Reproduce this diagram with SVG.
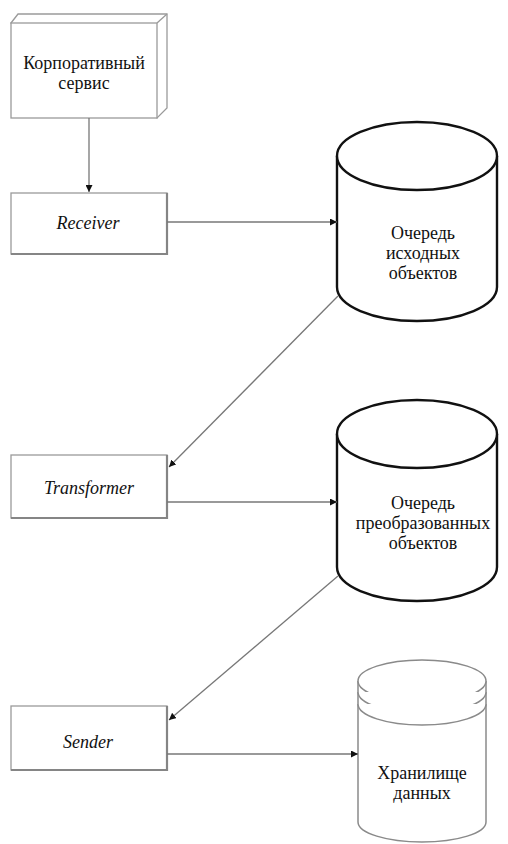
<svg xmlns="http://www.w3.org/2000/svg" width="508" height="844" viewBox="0 0 508 844">
  <style>
    .lbl { font-size: 18px; fill: #111; text-anchor: middle; }
    .it { font-style: italic; }
    .box { fill: #fff; stroke: #9a9a9a; stroke-width: 1.3; }
    .shade { fill: none; stroke: #858585; stroke-width: 2.2; }
    .cyl { fill: #fff; stroke: #111; stroke-width: 2.4; }
    .store { fill: #fff; stroke: #8a8a8a; stroke-width: 1.5; }
    .conn { fill: none; stroke: #777; stroke-width: 1.3; }
  </style>
  <defs>
    <marker id="arrow" viewBox="0 0 10 10" refX="10" refY="5" markerWidth="7" markerHeight="7" orient="auto" markerUnits="userSpaceOnUse">
      <path d="M0,0 L10,5 L0,10 z" fill="#111"/>
    </marker>
  </defs>

  <rect width="508" height="844" fill="#fff"/>

  <g font-family="Liberation Serif, Times New Roman, Tinos, DejaVu Serif, Noto Serif, FreeSerif, serif">
  <!-- Corporate service: 3D node box -->
  <g id="corp-service">
    <path d="M11,23 L18,14 L167,14 L167,108 L157,118 Z" class="box"/>
    <path d="M157,23 L167,14" class="box"/>
    <rect x="11" y="23" width="146" height="95" class="box"/>
    <text class="lbl" x="84" y="69">Корпоративный</text>
    <text class="lbl" x="84" y="89">сервис</text>
  </g>

  <!-- Receiver -->
  <g id="receiver">
    <rect x="11" y="193" width="156" height="61" class="box"/>
    <path d="M11,254 L167,254 L167,193" class="shade"/>
    <text class="lbl it" x="88" y="229">Receiver</text>
  </g>

  <!-- Source object queue -->
  <g id="queue-source">
    <path d="M337,156 L337,287 A80,34 0 0 0 497,287 L497,156" class="cyl"/>
    <ellipse cx="417" cy="156" rx="80" ry="34" class="cyl"/>
    <text class="lbl" x="423" y="239">Очередь</text>
    <text class="lbl" x="423" y="259">исходных</text>
    <text class="lbl" x="423" y="279">объектов</text>
  </g>

  <!-- Transformer -->
  <g id="transformer">
    <rect x="11" y="455" width="156" height="63" class="box"/>
    <path d="M11,518 L167,518 L167,455" class="shade"/>
    <text class="lbl it" x="89" y="494">Transformer</text>
  </g>

  <!-- Transformed object queue -->
  <g id="queue-transformed">
    <path d="M337,434 L337,567 A80,34 0 0 0 497,567 L497,434" class="cyl"/>
    <ellipse cx="417" cy="434" rx="80" ry="34" class="cyl"/>
    <text class="lbl" x="423" y="509">Очередь</text>
    <text class="lbl" x="423" y="529">преобразованных</text>
    <text class="lbl" x="423" y="549">объектов</text>
  </g>

  <!-- Sender -->
  <g id="sender">
    <rect x="11" y="706" width="156" height="64" class="box"/>
    <path d="M11,770 L167,770 L167,706" class="shade"/>
    <text class="lbl it" x="88" y="748">Sender</text>
  </g>

  <!-- Data storage -->
  <g id="storage">
    <path d="M358,681 L358,822 A64,20 0 0 0 486,822 L486,681" class="store"/>
    <ellipse cx="422" cy="681" rx="64" ry="21" class="store"/>
    <path d="M358,692 A64,21 0 0 0 486,692" class="store"/>
    <path d="M358,704 A64,21 0 0 0 486,704" class="store"/>
    <text class="lbl" x="422" y="779">Хранилище</text>
    <text class="lbl" x="422" y="799">данных</text>
  </g>
  </g>

  <!-- Connectors -->
  <g id="connectors">
    <line x1="89" y1="118" x2="89" y2="192" class="conn" marker-end="url(#arrow)"/>
    <line x1="167" y1="222" x2="337" y2="222" class="conn" marker-end="url(#arrow)"/>
    <line x1="338" y1="296" x2="169" y2="467" class="conn" marker-end="url(#arrow)"/>
    <line x1="167" y1="502" x2="337" y2="502" class="conn" marker-end="url(#arrow)"/>
    <line x1="338" y1="576" x2="169" y2="720" class="conn" marker-end="url(#arrow)"/>
    <line x1="167" y1="754" x2="358" y2="754" class="conn" marker-end="url(#arrow)"/>
  </g>
</svg>
